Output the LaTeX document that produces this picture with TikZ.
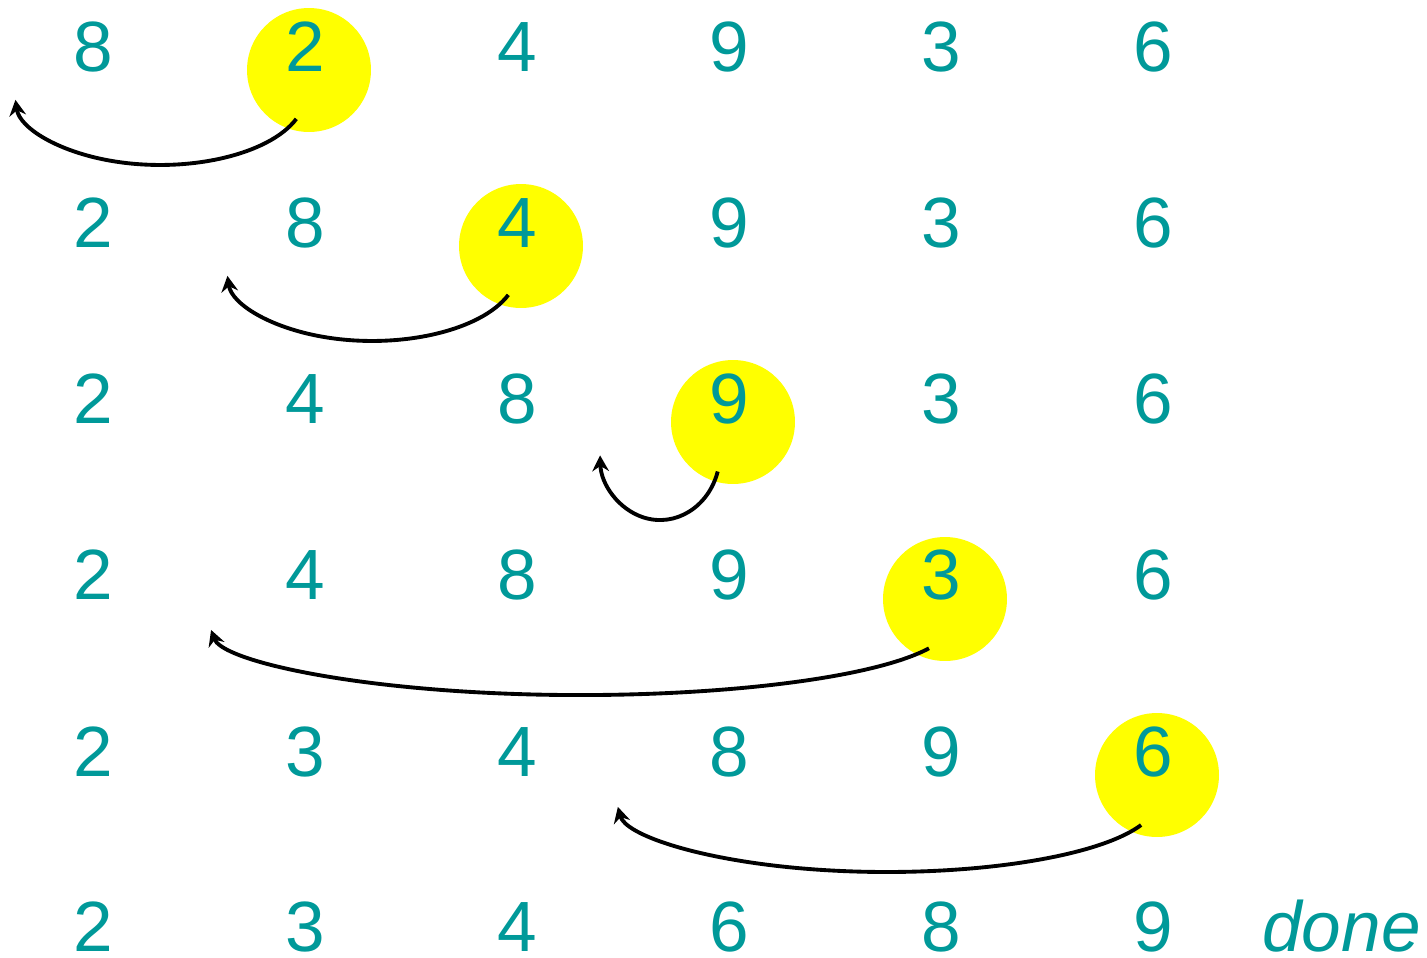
\documentclass[tikz,border=0pt]{standalone}
\usepackage{fontspec}
\setmainfont{Liberation Sans}
\usetikzlibrary{arrows.meta}
\definecolor{teal}{RGB}{0,153,153}
\definecolor{hl}{RGB}{255,255,0}
\begin{document}
\begin{tikzpicture}[x=0.02cm,y=0.02cm,
  digit/.style={anchor=base, text=teal, inner sep=0pt, font=\fontsize{40.5}{42}\selectfont},
  hilite/.style={circle, fill=hl, minimum size=2.48cm, inner sep=0pt},
  arr/.style={draw=black, line width=2.2pt, -{Stealth[length=9pt,width=9.5pt,inset=3pt]}}]
\useasboundingbox (0,0) rectangle (1427,-957);
% highlight circles
\node[hilite] (h1) at (309,-70) {};
\node[hilite] (h2) at (521,-246) {};
\node[hilite] (h3) at (733,-422) {};
\node[hilite] (h4) at (945,-599) {};
\node[hilite] (h5) at (1157,-775) {};
% digits
\foreach \row/\base/\vals in {0/71/{8,2,4,9,3,6},1/247/{2,8,4,9,3,6},2/423/{2,4,8,9,3,6},3/599/{2,4,8,9,3,6},4/776/{2,3,4,8,9,6},5/951/{2,3,4,6,8,9}}{
  \foreach \v [count=\c from 0] in \vals {
    \node[digit] (d\row\c) at ({93+212*\c},-\base) {\v};
  }
}
\node[digit, anchor=base west, font=\fontsize{40.5}{42}\selectfont\itshape] (done) at (1262,-951) {done};
% arrow start points
\coordinate (s1) at (296.3,-118.9);
\coordinate (s2) at (508.3,-294.9);
\coordinate (s3) at (717.7,-471.5);
\coordinate (s4) at (929,-648.3);
\coordinate (s5) at (1141.1,-825);
\draw[arr] (s1) arc[start angle=-20, end angle=-176, x radius=2.9cm, y radius=1.4cm];
\draw[arr] (s2) arc[start angle=-20, end angle=-176, x radius=2.9cm, y radius=1.4cm];
\draw[arr] (s3) arc[start angle=-16, end angle=-178, x radius=1.2cm, y radius=1.34cm];
\draw[arr] (s4) arc[start angle=-19.4, end angle=-176, x radius=7.4cm, y radius=1.4cm];
\draw[arr] (s5) arc[start angle=-19.2, end angle=-176, x radius=5.39cm, y radius=1.4cm];
\end{tikzpicture}
\end{document}
